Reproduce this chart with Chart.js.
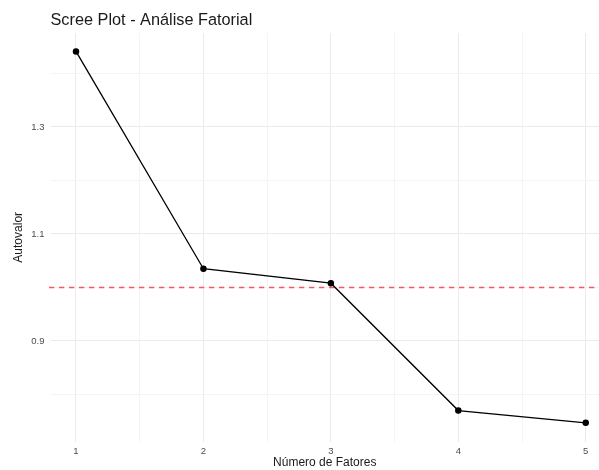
<!DOCTYPE html>
<html>
<head>
<meta charset="utf-8">
<script src="https://cdn.jsdelivr.net/npm/chart.js@4"></script>
<style>
  html, body { margin: 0; padding: 0; background: #fff; }
  #box { width: 599px; height: 470px; position: relative; }
</style>
</head>
<body>
<div id="box"><canvas id="myChart"></canvas></div>
<script>
let fatores = [1, 2, 3, 4, 5];
let autovalores = [1.441, 1.035, 1.008, 0.770, 0.747];
let kaiser = 1.0;
let xTicks = [1, 1.5, 2, 2.5, 3, 3.5, 4, 4.5, 5];
let yTicks = [0.8, 0.9, 1.0, 1.1, 1.2, 1.3, 1.4];
let yLabels = [0.9, 1.1, 1.3];
let titulo = 'Scree Plot - Análise Fatorial';

let fonte = 'Liberation Sans, Arial, sans-serif';
let ctx = document.getElementById('myChart');

function isMajorY(v) {
    return yLabels.some(l => Math.abs(l - v) < 1e-6);
}

// linha tracejada vermelha (Kaiser) + titulo alinhado ao painel
let extras = {
    id: 'extras',
    beforeDatasetsDraw(chart) {
        let c = chart.ctx;
        let area = chart.chartArea;
        let y = chart.scales.y.getPixelForValue(kaiser);
        c.save();
        c.strokeStyle = '#f5585f';
        c.lineWidth = 1.6;
        c.setLineDash([5.3, 4.7]);
        c.beginPath();
        c.moveTo(area.left - 1.5, y);
        c.lineTo(area.right, y);
        c.stroke();
        c.restore();
    },
    afterDraw(chart) {
        let c = chart.ctx;
        c.save();
        c.fillStyle = '#1a1a1a';
        c.font = '16.3px ' + fonte;
        c.textBaseline = 'alphabetic';
        c.textAlign = 'left';
        c.fillText(titulo, chart.chartArea.left, 25);
        c.restore();
    }
};

let myChart = new Chart(ctx, {
    type: 'line',
    data: {
        datasets: [{
            data: fatores.map((f, i) => ({x: f, y: autovalores[i]})),
            borderColor: '#000',
            backgroundColor: '#000',
            borderWidth: 1.3,
            pointRadius: 2.6,
            pointHoverRadius: 2.6,
            tension: 0
        }]
    },
    options: {
        responsive: true,
        maintainAspectRatio: false,
        animation: false,
        layout: { autoPadding: false, padding: { top: 33, right: 0, left: 0, bottom: 0 } },
        plugins: {
            legend: { display: false },
            tooltip: { enabled: false }
        },
        scales: {
            x: {
                type: 'linear',
                min: 0.8,
                max: 5.104,
                afterBuildTicks: s => { s.ticks = xTicks.map(v => ({value: v})); },
                afterFit: s => { s.height = 28.4; s.paddingLeft = 0; s.paddingRight = 0; },
                border: { display: false },
                grid: {
                    drawTicks: false,
                    color: c => Number.isInteger(c.tick.value) ? '#ebebeb' : '#f4f4f4',
                    lineWidth: 1
                },
                ticks: {
                    padding: 4,
                    color: '#4d4d4d',
                    font: { family: fonte, size: 9.5 },
                    autoSkip: false,
                    maxRotation: 0,
                    callback: v => Number.isInteger(v) ? String(v) : ''
                },
                title: {
                    display: true,
                    text: 'Número de Fatores',
                    color: '#1a1a1a',
                    font: { family: fonte, size: 12 },
                    padding: { top: 0, bottom: 0.5 }
                }
            },
            y: {
                type: 'linear',
                min: 0.712,
                max: 1.4754,
                afterBuildTicks: s => { s.ticks = yTicks.map(v => ({value: v})); },
                afterFit: s => { s.width = 50.5; s.paddingTop = 0; s.paddingBottom = 0; },
                border: { display: false },
                grid: {
                    drawTicks: false,
                    color: c => isMajorY(c.tick.value) ? '#ebebeb' : '#f4f4f4',
                    lineWidth: 1
                },
                ticks: {
                    padding: 6,
                    color: '#4d4d4d',
                    font: { family: fonte, size: 9.5 },
                    autoSkip: false,
                    callback: v => isMajorY(v) ? v.toFixed(1) : ''
                },
                title: {
                    display: true,
                    text: 'Autovalor',
                    color: '#1a1a1a',
                    font: { family: fonte, size: 12 },
                    padding: { top: 11, bottom: 0 }
                }
            }
        }
    },
    plugins: [extras]
});
</script>
</body>
</html>
